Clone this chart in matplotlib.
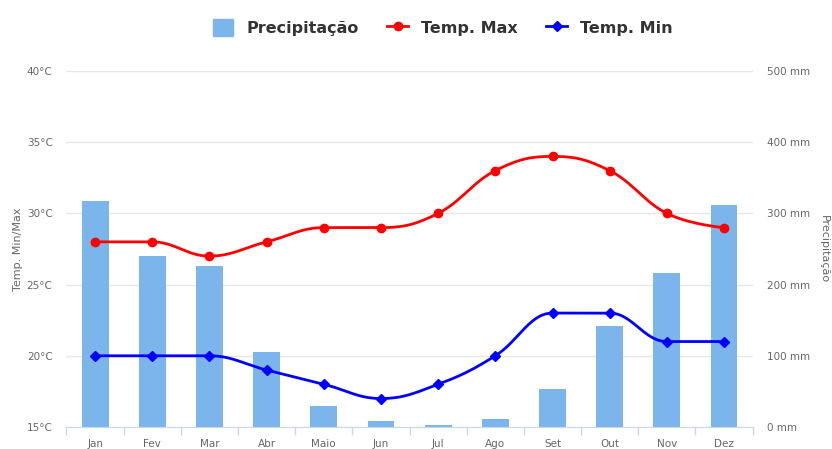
import numpy as np
import matplotlib.pyplot as plt
from matplotlib.lines import Line2D
from matplotlib.patches import Patch

meses = ["Jan", "Fev", "Mar", "Abr", "Maio", "Jun", "Jul", "Ago", "Set", "Out", "Nov", "Dez"]
precipitacao = [317, 240, 226, 105, 30, 8, 3, 11, 53, 142, 216, 312]
temp_max = [28, 28, 27, 28, 29, 29, 30, 33, 34, 33, 30, 29]
temp_min = [20, 20, 20, 19, 18, 17, 18, 20, 23, 23, 21, 21]

COR_BARRA = "#7cb5ec"
COR_MAX = "#ff0000"
COR_MIN = "#0000ff"
COR_TEXTO = "#666666"


def spline(x, y, smoothing=1.5, n=30):
    # curva tipo "spline" do Highcharts (bezier com tangentes planas nos extremos)
    x = np.asarray(x, dtype=float)
    y = np.asarray(y, dtype=float)
    k = len(x)
    slope = np.zeros(k)
    for i in range(1, k - 1):
        a, b, c = y[i - 1], y[i], y[i + 1]
        if (b - a) * (c - b) > 0:
            slope[i] = (c - a) / (x[i + 1] - x[i - 1])
    h = 1.0 / (smoothing + 1)
    xs, ys = [], []
    t = np.linspace(0, 1, n)
    for i in range(k - 1):
        dx = x[i + 1] - x[i]
        d0 = 0 if i == 0 else h * dx
        d1 = 0 if i + 1 == k - 1 else h * dx
        p0 = (x[i], y[i])
        p1 = (x[i] + d0, y[i] + d0 * slope[i])
        p2 = (x[i + 1] - d1, y[i + 1] - d1 * slope[i + 1])
        p3 = (x[i + 1], y[i + 1])
        bx = (1 - t) ** 3 * p0[0] + 3 * (1 - t) ** 2 * t * p1[0] + 3 * (1 - t) * t ** 2 * p2[0] + t ** 3 * p3[0]
        by = (1 - t) ** 3 * p0[1] + 3 * (1 - t) ** 2 * t * p1[1] + 3 * (1 - t) * t ** 2 * p2[1] + t ** 3 * p3[1]
        xs.extend(bx)
        ys.extend(by)
    return np.array(xs), np.array(ys)


fig = plt.figure(figsize=(8.32, 4.49), dpi=100)
ax = fig.add_axes([0.0799, 0.049, 0.8247, 0.793])
x = np.arange(len(meses))

# barras no eixo principal (direita)
ax.bar(x, precipitacao, width=0.47, color=COR_BARRA, zorder=2)
ax.set_ylim(0, 500)
ax.set_xlim(-0.5, len(meses) - 0.5)
ax.set_yticks(np.arange(0, 501, 100))
ax.set_yticklabels([f"{v} mm" for v in range(0, 501, 100)])
ax.grid(axis="y", color="#e6e6e6", linewidth=1)
ax.set_axisbelow(True)
ax.set_xticks(x)
ax.set_xticklabels(meses)
ax.set_xticks(np.arange(-0.5, len(meses), 1), minor=True)
ax.tick_params(axis="x", which="major", length=0, pad=9, labelsize=7.5, labelcolor=COR_TEXTO)
ax.tick_params(axis="x", which="minor", length=6, color="#ccd6eb", width=1)
for s in ["top", "left", "right"]:
    ax.spines[s].set_visible(False)
ax.spines["bottom"].set_color("#ccd6eb")

# linhas de temperatura (esquerda)
ax2 = ax.twinx()
ax.yaxis.tick_right()
ax.yaxis.set_label_position("right")
ax.set_ylabel("Precipitação", rotation=270, color=COR_TEXTO, fontsize=8, labelpad=14)
ax.tick_params(axis="y", length=0, pad=10, labelsize=7.5, labelcolor=COR_TEXTO)

ax2.set_ylim(15, 40)
ax2.yaxis.tick_left()
ax2.yaxis.set_label_position("left")
ax2.set_yticks(np.arange(15, 41, 5))
ax2.set_yticklabels([f"{v}°C" for v in range(15, 41, 5)])
ax2.tick_params(axis="y", length=0, pad=10, labelsize=7.5, labelcolor=COR_TEXTO)
ax2.set_ylabel("Temp. Min/Max", color=COR_TEXTO, fontsize=8, labelpad=3)
for s in ax2.spines.values():
    s.set_visible(False)

sx, sy = spline(x, temp_max)
ax2.plot(sx, sy, color=COR_MAX, linewidth=2, zorder=3)
ax2.plot(x, temp_max, "o", color=COR_MAX, markersize=6, zorder=4)
sx, sy = spline(x, temp_min)
ax2.plot(sx, sy, color=COR_MIN, linewidth=2, zorder=3)
ax2.plot(x, temp_min, "D", color=COR_MIN, markersize=5, zorder=4)

handles = [
    Patch(color=COR_BARRA),
    Line2D([0], [0], color=COR_MAX, marker="o", markersize=6, linewidth=2),
    Line2D([0], [0], color=COR_MIN, marker="D", markersize=5, linewidth=2),
]
fig.legend(handles, ["Precipitação", "Temp. Max", "Temp. Min"], loc="upper center",
           bbox_to_anchor=(0.532, 0.99), ncol=3, frameon=False, handlelength=1.3,
           handleheight=1.3, columnspacing=1.8, handletextpad=0.8,
           prop={"size": 11.5, "weight": "bold"}, labelcolor="#333333")

fig.savefig("out.png", dpi=100)
